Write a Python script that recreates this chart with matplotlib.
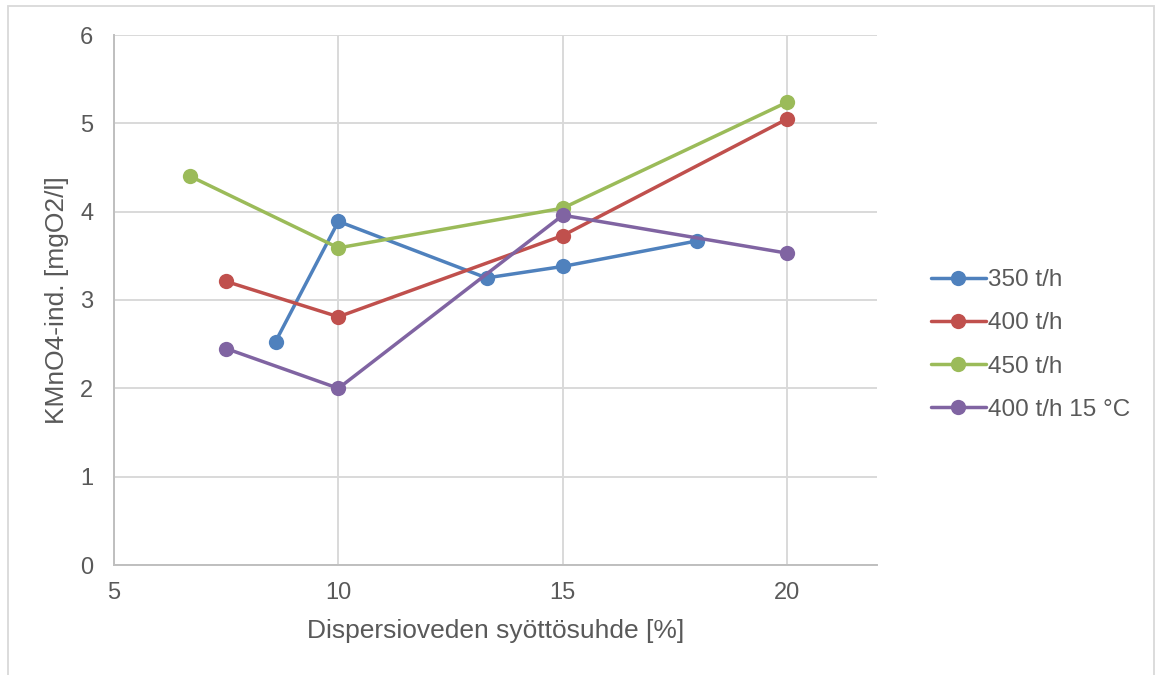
import matplotlib.pyplot as plt
from matplotlib.patches import Rectangle

plt.rcParams['font.family'] = ['Liberation Sans', 'DejaVu Sans']

# feed ratio of dispersion water [%] and KMnO4 index per flow rate
x_350 = [8.6, 10, 13.3, 15, 18]
y_350 = [2.53, 3.89, 3.25, 3.38, 3.67]

x_400 = [7.5, 10, 15, 20]
y_400 = [3.21, 2.81, 3.73, 5.05]

x_450 = [6.7, 10, 15, 20]
y_450 = [4.40, 3.59, 4.04, 5.24]

x_400_15 = [7.5, 10, 15, 20]
y_400_15 = [2.45, 2.00, 3.96, 3.53]

labels = ["350 t/h", "400 t/h", "450 t/h", "400 t/h 15 °C"]
colors = ["#4F81BD", "#C0504D", "#9BBB59", "#8064A2"]

x_ticks = [5, 10, 15, 20]
y_ticks = [0, 1, 2, 3, 4, 5, 6]

W, H = 1156, 675
fig = plt.figure(figsize=(W / 100, H / 100), dpi=100)
ax = fig.add_axes([114 / W, 110 / H, 763 / W, 530 / H])

series = [(x_350, y_350), (x_400, y_400), (x_450, y_450), (x_400_15, y_400_15)]
for (xs, ys), lab, col in zip(series, labels, colors):
    ax.plot(xs, ys, color=col, lw=2.5, marker="o", ms=11, mew=0, label=lab,
            solid_capstyle="round", zorder=3)

ax.set_xlim(5, 22)
ax.set_ylim(0, 6)
ax.set_xticks(x_ticks)
ax.set_yticks(y_ticks)
ax.grid(True, color="#d9d9d9", lw=1.4, zorder=0)
ax.tick_params(length=0, labelsize=17, colors="#595959")
ax.tick_params(axis="x", pad=12)
ax.tick_params(axis="y", pad=15)

for side in ["top", "right"]:
    ax.spines[side].set_visible(False)
for side in ["left", "bottom"]:
    ax.spines[side].set_color("#bfbfbf")
    ax.spines[side].set_linewidth(1.4)

ax.set_xlabel("Dispersioveden syöttösuhde [%]", fontsize=19, color="#595959",
              labelpad=11)
ax.set_ylabel("KMnO4-ind. [mgO2/l]", fontsize=19, color="#595959", labelpad=8)

fig.legend(loc="center left", bbox_to_anchor=(909 / W, (H - 345) / H),
           frameon=False, fontsize=17.5, labelcolor="#595959",
           handlelength=2.25, handletextpad=0.1, labelspacing=0.87)

# chart frame
fig.patches.append(Rectangle((8 / W, -0.05), 1146 / W, 1.05 - 6 / H,
                             transform=fig.transFigure, fill=False,
                             edgecolor="#d9d9d9", lw=1.3))

fig.savefig("out.png", dpi=100, facecolor="white")
